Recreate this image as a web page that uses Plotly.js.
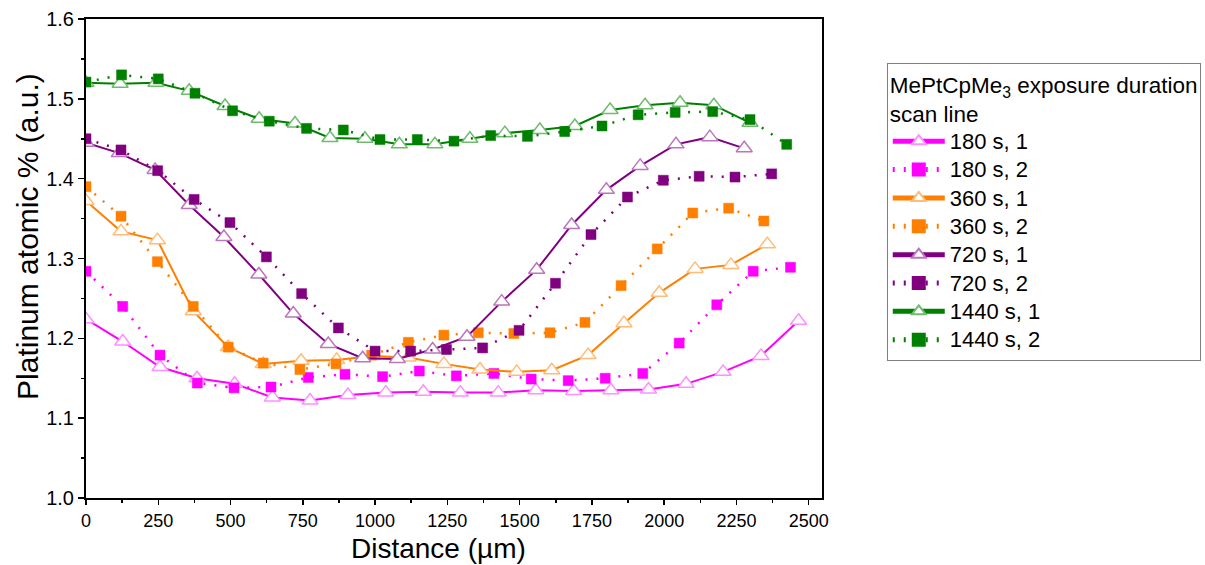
<!DOCTYPE html>
<html>
<head>
<meta charset="utf-8">
<script src="https://cdn.plot.ly/plotly-3.0.1.min.js"></script>
<style>html,body{margin:0;padding:0;background:#fff;}#chart{width:1205px;height:565px;}</style>
</head>
<body>
<div id="chart"></div>
<script>
// Series names (legend labels)
const seriesNames = ["180 s, 1", "180 s, 2", "360 s, 1", "360 s, 2", "720 s, 1", "720 s, 2", "1440 s, 1", "1440 s, 2"];

// Distance (µm) for each scan line
const x180_1 = [0, 127, 256, 384, 514, 645, 775, 906, 1037, 1167, 1295, 1426, 1556, 1687, 1816, 1946, 2076, 2204, 2335, 2465];
const x180_2 = [0, 127, 256, 385, 512, 640, 769, 896, 1026, 1153, 1281, 1411, 1540, 1668, 1796, 1926, 2052, 2182, 2308, 2437];
const x360_1 = [0, 121, 247, 371, 492, 613, 744, 867, 989, 1114, 1238, 1363, 1490, 1611, 1737, 1861, 1983, 2107, 2231, 2357];
const x360_2 = [0, 121, 247, 371, 492, 613, 740, 865, 988, 1115, 1238, 1357, 1480, 1605, 1726, 1851, 1976, 2099, 2223, 2345];
const x720_1 = [0, 115, 239, 357, 477, 598, 717, 838, 957, 1077, 1199, 1318, 1438, 1559, 1680, 1800, 1917, 2041, 2158, 2277];
const x720_2 = [0, 121, 248, 374, 498, 624, 746, 873, 1000, 1123, 1247, 1372, 1498, 1624, 1747, 1873, 1997, 2121, 2245, 2372];
const x1440_1 = [0, 118, 242, 357, 481, 599, 723, 844, 965, 1084, 1207, 1328, 1449, 1570, 1691, 1813, 1934, 2055, 2172, 2297];
const x1440_2 = [0, 123, 250, 377, 507, 634, 763, 890, 1017, 1146, 1273, 1400, 1527, 1656, 1785, 1910, 2038, 2168, 2297, 2424];

// Platinum atomic % (a.u.)
const y180_1 = [1.224, 1.196, 1.164, 1.150, 1.143, 1.126, 1.122, 1.129, 1.132, 1.133, 1.132, 1.132, 1.135, 1.134, 1.135, 1.136, 1.143, 1.158, 1.178, 1.222];
const y180_2 = [1.284, 1.240, 1.179, 1.144, 1.138, 1.139, 1.151, 1.155, 1.152, 1.159, 1.153, 1.156, 1.149, 1.147, 1.150, 1.156, 1.194, 1.242, 1.284, 1.289];
const y360_1 = [1.372, 1.334, 1.323, 1.234, 1.189, 1.168, 1.172, 1.173, 1.178, 1.176, 1.168, 1.161, 1.158, 1.160, 1.179, 1.219, 1.257, 1.287, 1.292, 1.318];
const y360_2 = [1.390, 1.353, 1.296, 1.240, 1.189, 1.169, 1.161, 1.168, 1.179, 1.195, 1.204, 1.207, 1.206, 1.207, 1.220, 1.266, 1.312, 1.357, 1.363, 1.347];
const y720_1 = [1.445, 1.432, 1.411, 1.367, 1.327, 1.280, 1.231, 1.193, 1.175, 1.174, 1.186, 1.202, 1.246, 1.286, 1.342, 1.386, 1.416, 1.443, 1.452, 1.438];
const y720_2 = [1.450, 1.436, 1.410, 1.374, 1.345, 1.302, 1.256, 1.213, 1.184, 1.184, 1.186, 1.188, 1.210, 1.269, 1.330, 1.377, 1.398, 1.403, 1.402, 1.406];
const y1440_1 = [1.520, 1.519, 1.520, 1.510, 1.491, 1.475, 1.469, 1.451, 1.450, 1.443, 1.443, 1.450, 1.457, 1.461, 1.466, 1.486, 1.492, 1.495, 1.492, 1.470];
const y1440_2 = [1.521, 1.530, 1.525, 1.507, 1.485, 1.472, 1.463, 1.461, 1.449, 1.449, 1.447, 1.454, 1.453, 1.459, 1.466, 1.480, 1.483, 1.484, 1.474, 1.443];

// Axis tick labels and titles
const xTickVals = [0, 250, 500, 750, 1000, 1250, 1500, 1750, 2000, 2250, 2500];
const yTickVals = [1.0, 1.1, 1.2, 1.3, 1.4, 1.5, 1.6];
const xTitle = "Distance (µm)";
const yTitle = "Platinum atomic % (a.u.)";
const legendTitle = "MePtCpMe<sub>3</sub> exposure duration<br>scan line";

const xs = [x180_1, x180_2, x360_1, x360_2, x720_1, x720_2, x1440_1, x1440_2];
const ys = [y180_1, y180_2, y360_1, y360_2, y720_1, y720_2, y1440_1, y1440_2];

const colors = ["#ff00ff", "#ff00ff", "#ff7f00", "#ff7f00", "#800080", "#800080", "#008000", "#008000"];
const paleColors = ["#ff90ff", "#ff90ff", "#ffbb77", "#ffbb77", "#bb77bb", "#bb77bb", "#70bb70", "#70bb70"];

const traces = seriesNames.map((name, i) => {
  const isLine1 = (i % 2 === 0);
  return {
    type: "scatter",
    mode: "lines+markers",
    name: '<span style="font-size:22px">' + name + '</span>',
    x: xs[i],
    y: ys[i],
    line: isLine1 ? {color: colors[i], width: 2} : {color: colors[i], width: 2.5, dash: "2px,9px"},
    marker: isLine1
      ? {symbol: "triangle-up", size: 14, color: "#ffffff", line: {color: paleColors[i], width: 1.5}}
      : {symbol: "square", size: 10, color: colors[i], line: {color: colors[i], width: 0.5}}
  };
});

const baseFont = "Liberation Sans, Arial, sans-serif";

const layout = {
  width: 1205,
  height: 565,
  paper_bgcolor: "#ffffff",
  plot_bgcolor: "#ffffff",
  margin: {l: 86, r: 383, t: 19, b: 67, pad: 0, autoexpand: false},
  showlegend: true,
  xaxis: {
    range: [0, 2546],
    tickvals: xTickVals,
    ticktext: xTickVals.map(String),
    ticks: "outside",
    ticklen: 5,
    tickwidth: 1.5,
    tickcolor: "#000",
    showline: true,
    linecolor: "#000",
    linewidth: 2,
    mirror: true,
    showgrid: false,
    zeroline: false,
    tickfont: {family: baseFont, size: 18, color: "#000"},
    minor: {dtick: 125, tick0: 0, ticks: "outside", ticklen: 3, tickwidth: 1.5, tickcolor: "#000", showgrid: false},
    automargin: false
  },
  yaxis: {
    range: [1.0, 1.6],
    tickvals: yTickVals,
    ticktext: yTickVals.map(v => v.toFixed(1)),
    ticks: "outside",
    ticklen: 6,
    tickwidth: 1.5,
    tickcolor: "#000",
    showline: true,
    linecolor: "#000",
    linewidth: 2,
    mirror: true,
    showgrid: false,
    zeroline: false,
    tickfont: {family: baseFont, size: 20, color: "#000"},
    minor: {dtick: 0.05, tick0: 1.0, ticks: "outside", ticklen: 3, tickwidth: 1.5, tickcolor: "#000", showgrid: false},
    automargin: false
  },
  annotations: [
    {text: xTitle, xref: "paper", yref: "paper", x: 0.4783, y: -0.1045, xanchor: "center", yanchor: "middle",
     showarrow: false, font: {family: baseFont, size: 28, color: "#000"}},
    {text: yTitle, xref: "paper", yref: "paper", x: -0.0788, y: 0.545, xanchor: "center", yanchor: "middle",
     textangle: -90, showarrow: false, font: {family: baseFont, size: 30, color: "#000"}}
  ],
  legend: {
    x: 1.088,
    y: 0.909,
    xanchor: "left",
    yanchor: "top",
    bgcolor: "#ffffff",
    bordercolor: "#808080",
    borderwidth: 1,
    font: {family: baseFont, size: 19.5, color: "#000"},
    title: {text: legendTitle, font: {family: baseFont, size: 22.5, color: "#000"}},
    itemwidth: 52,
    tracegroupgap: 0,
    itemsizing: "constant"
  }
};

Plotly.newPlot("chart", traces, layout, {staticPlot: true, displayModeBar: false});
</script>
</body>
</html>
